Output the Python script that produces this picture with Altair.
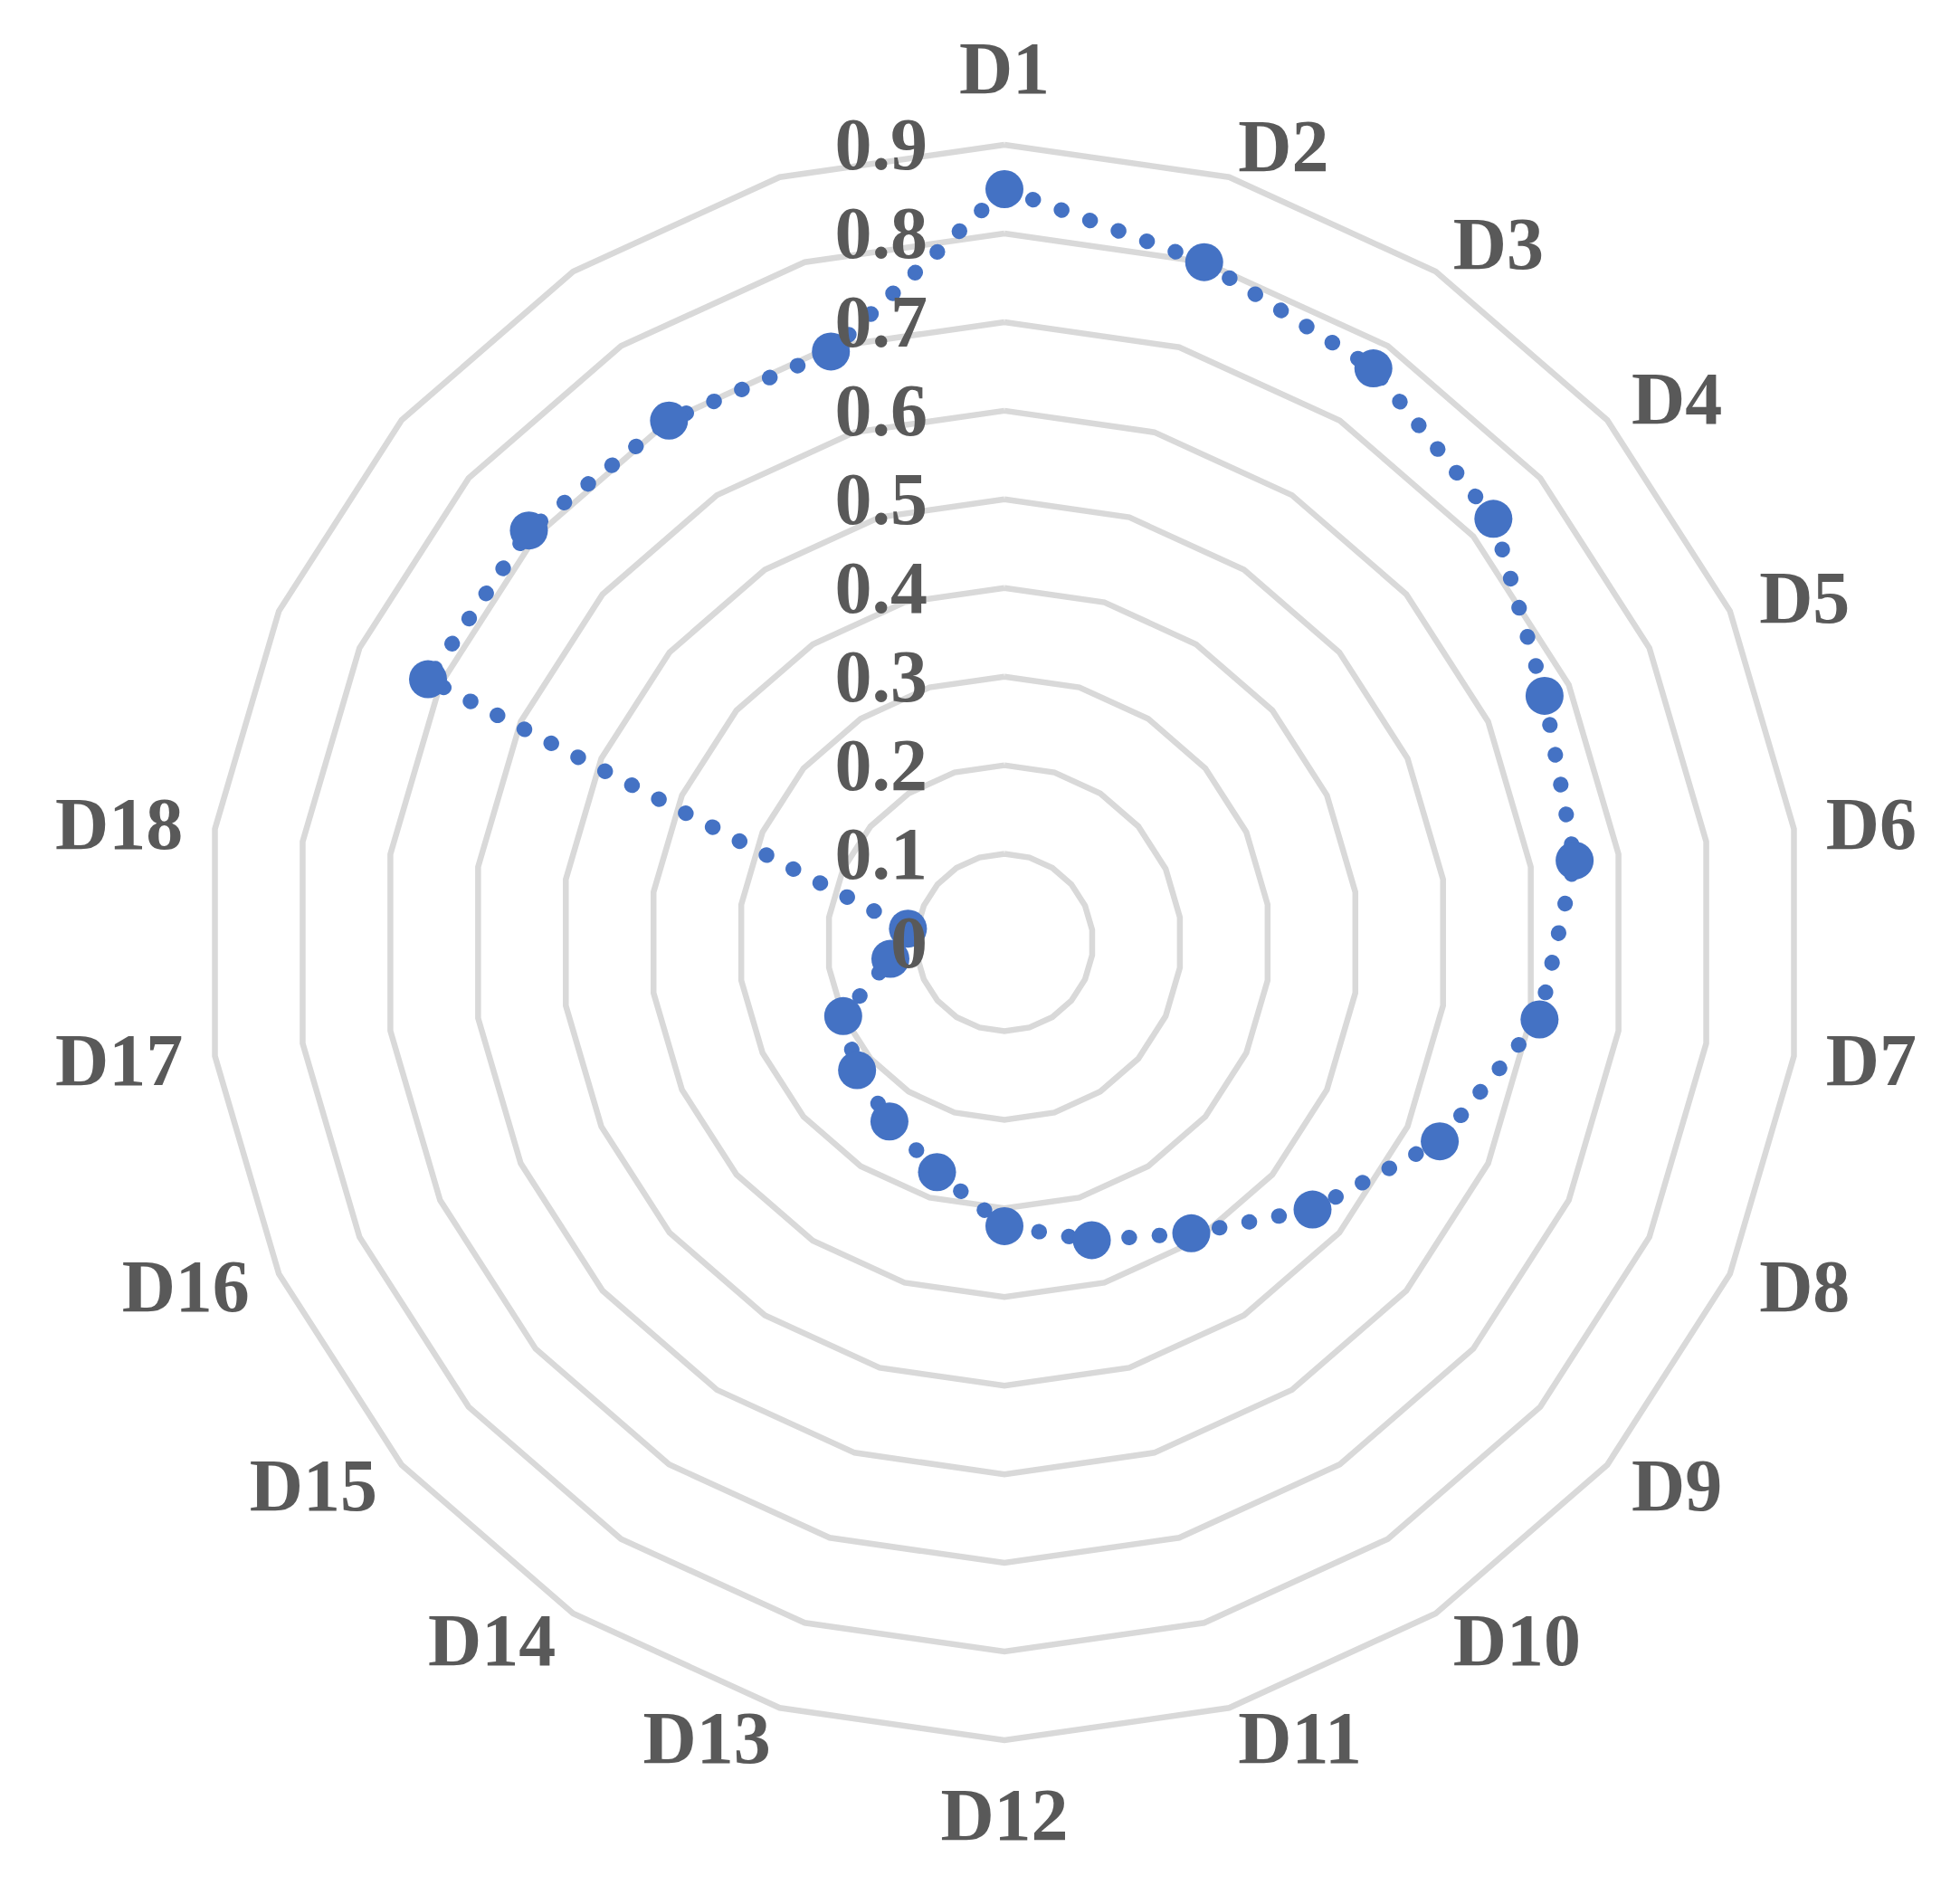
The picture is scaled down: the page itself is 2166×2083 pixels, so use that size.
import altair as alt
import pandas as pd

categories = ["D1", "D2", "D3", "D4", "D5", "D6", "D7", "D8", "D9", "D10", "D11",
              "D12", "D13", "D14", "D15", "D16", "D17", "D18", "", "", "", ""]
values = [0.85, 0.80, 0.77, 0.73, 0.67, 0.65, 0.61, 0.54, 0.46, 0.39, 0.35,
          0.32, 0.27, 0.24, 0.22, 0.20, 0.13, 0.11, 0.715, 0.71, 0.70, 0.695]
grid_levels = [0.1, 0.2, 0.3, 0.4, 0.5, 0.6, 0.7, 0.8, 0.9]
tick_values = [0, 0.1, 0.2, 0.3, 0.4, 0.5, 0.6, 0.7, 0.8, 0.9]
tick_labels = ["0", "0.1", "0.2", "0.3", "0.4", "0.5", "0.6", "0.7", "0.8", "0.9"]

N = len(categories)
BLUE = "#4472C4"
GRID = "#D9D9D9"
TEXT = "#595959"
FONT = "Liberation Serif"
LABEL_R = 0.9363

pts = pd.DataFrame({"cat": categories, "idx": list(range(N)), "value": values})
line_df = pd.concat([pts, pts.iloc[[0]].assign(idx=N)], ignore_index=True)
grid_df = pd.DataFrame([{"value": lv, "idx": i} for lv in grid_levels for i in range(N + 1)])
lab_df = pd.DataFrame({"cat": categories, "idx": list(range(N))})
tick_df = pd.DataFrame({"label": tick_labels, "value": tick_values})

xs = alt.Scale(domain=[-1.12518, 1.07004], nice=False, zero=False)
ys = alt.Scale(domain=[-1.05524, 1.05524], nice=False, zero=False)
X = alt.X("x:Q", scale=xs, axis=None)
Y = alt.Y("y:Q", scale=ys, axis=None)

polar_x = f"datum.value * sin(2 * PI * datum.idx / {N})"
polar_y = f"datum.value * cos(2 * PI * datum.idx / {N})"

grid = alt.Chart(grid_df).transform_calculate(x=polar_x, y=polar_y).mark_line(
    color=GRID, strokeWidth=6.5
).encode(x=X, y=Y, detail="value:N", order=alt.Order("idx:Q"))

line = alt.Chart(line_df).transform_calculate(x=polar_x, y=polar_y).mark_line(
    color=BLUE, strokeWidth=17, strokeDash=[0.5, 33], strokeCap="round"
).encode(x=X, y=Y, order=alt.Order("idx:Q"))

markers = alt.Chart(pts).transform_calculate(x=polar_x, y=polar_y).mark_point(
    filled=True, shape="circle", size=1764, color=BLUE, opacity=1, strokeWidth=0
).encode(x=X, y=Y)

ticks = alt.Chart(tick_df).transform_calculate(x="0", y="datum.value").mark_text(
    font=FONT, fontWeight="bold", fontSize=82, color=TEXT, align="right",
    baseline="middle", dx=-85, dy=2
).encode(x=X, y=Y, text="label:N")

lab_base = alt.Chart(lab_df).transform_filter("datum.cat != ''").transform_calculate(
    s=f"sin(2 * PI * datum.idx / {N})",
    c=f"cos(2 * PI * datum.idx / {N})",
).transform_calculate(x=f"{LABEL_R} * datum.s", y=f"{LABEL_R} * datum.c")

lab_kw = dict(font=FONT, fontWeight="bold", fontSize=82, color=TEXT, baseline="middle")
lab_right = lab_base.transform_filter("datum.s > 0.05").mark_text(align="left", dy=2, **lab_kw).encode(
    x=X, y=Y, text="cat:N")
lab_left = lab_base.transform_filter("datum.s < -0.05").mark_text(align="right", dy=2, **lab_kw).encode(
    x=X, y=Y, text="cat:N")
lab_top = lab_base.transform_filter("abs(datum.s) <= 0.05 && datum.c > 0").mark_text(
    align="center", dy=-46, **lab_kw).encode(x=X, y=Y, text="cat:N")
lab_bottom = lab_base.transform_filter("abs(datum.s) <= 0.05 && datum.c < 0").mark_text(
    align="center", dy=49, **lab_kw).encode(x=X, y=Y, text="cat:N")

chart = alt.layer(grid, line, markers, ticks, lab_right, lab_left, lab_top, lab_bottom).properties(
    width=2150, height=2067, padding=0, background="white"
).configure_view(strokeWidth=0)

chart.save("out.html", embed_options={"renderer": "svg", "actions": False})
